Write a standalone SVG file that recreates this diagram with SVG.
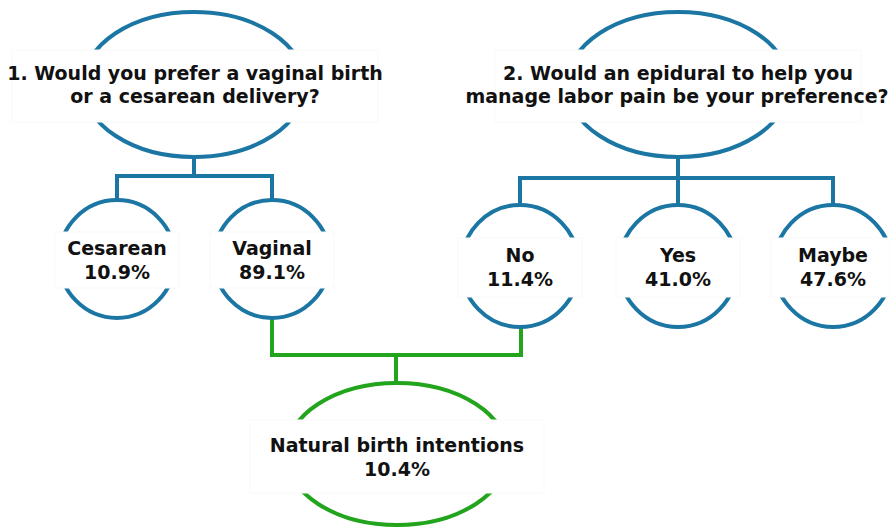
<svg xmlns="http://www.w3.org/2000/svg" width="890" height="530" viewBox="0 0 890 530">
<style>
.b{fill:none;stroke:#1b76a3;stroke-width:4}
.g{fill:none;stroke:#22a51c;stroke-width:4}
.w{fill:#fff;stroke:#f9f9f9;stroke-width:1}
text{font-family:"DejaVu Sans","Verdana",sans-serif;font-weight:bold;font-size:19px;fill:#111;text-anchor:middle}
</style>
<rect width="890" height="530" fill="#fff"/>
<g id="connectors">
<path class="b" d="M194,157 V176 M117,200 V176 H272 V200"/>
<path class="b" d="M678,157 V178 M520,205 V178 H833 V205 M678,178 V205"/>
<path class="g" d="M272,318 V355 H521 V327 M396,355 V383"/>
</g>
<g id="q1">
<ellipse class="b" cx="194" cy="84.5" rx="111" ry="72.5"/>
<rect class="w" x="12" y="50" width="366" height="72"/>
<text x="195" y="80">1. Would you prefer a vaginal birth</text>
<text x="195" y="103">or a cesarean delivery?</text>
</g>
<g id="q2">
<ellipse class="b" cx="678" cy="84.5" rx="111" ry="72.5"/>
<rect class="w" x="495" y="50" width="366" height="72"/>
<text x="678" y="80">2. Would an epidural to help you</text>
<text x="677" y="103">manage labor pain be your preference?</text>
</g>
<g id="cesarean">
<ellipse class="b" cx="117" cy="259" rx="58" ry="59"/>
<rect class="w" x="55" y="232" width="124" height="56"/>
<text x="117" y="255">Cesarean</text>
<text x="117" y="279">10.9%</text>
</g>
<g id="vaginal">
<ellipse class="b" cx="272" cy="259" rx="58" ry="59"/>
<rect class="w" x="210" y="232" width="124" height="56"/>
<text x="272" y="255">Vaginal</text>
<text x="272" y="279">89.1%</text>
</g>
<g id="no">
<ellipse class="b" cx="520" cy="266" rx="59" ry="61"/>
<rect class="w" x="458" y="238" width="124" height="59"/>
<text x="520" y="262">No</text>
<text x="520" y="286">11.4%</text>
</g>
<g id="yes">
<ellipse class="b" cx="678" cy="266" rx="59" ry="61"/>
<rect class="w" x="616" y="238" width="124" height="59"/>
<text x="678" y="262">Yes</text>
<text x="678" y="286">41.0%</text>
</g>
<g id="maybe">
<ellipse class="b" cx="833" cy="266" rx="59" ry="61"/>
<rect class="w" x="771" y="238" width="119" height="59"/>
<text x="833" y="262">Maybe</text>
<text x="833" y="286">47.6%</text>
</g>
<g id="natural">
<ellipse class="g" cx="397" cy="454" rx="111" ry="71"/>
<rect class="w" x="250" y="420" width="294" height="73"/>
<text x="397" y="452">Natural birth intentions</text>
<text x="397" y="476">10.4%</text>
</g>
</svg>
